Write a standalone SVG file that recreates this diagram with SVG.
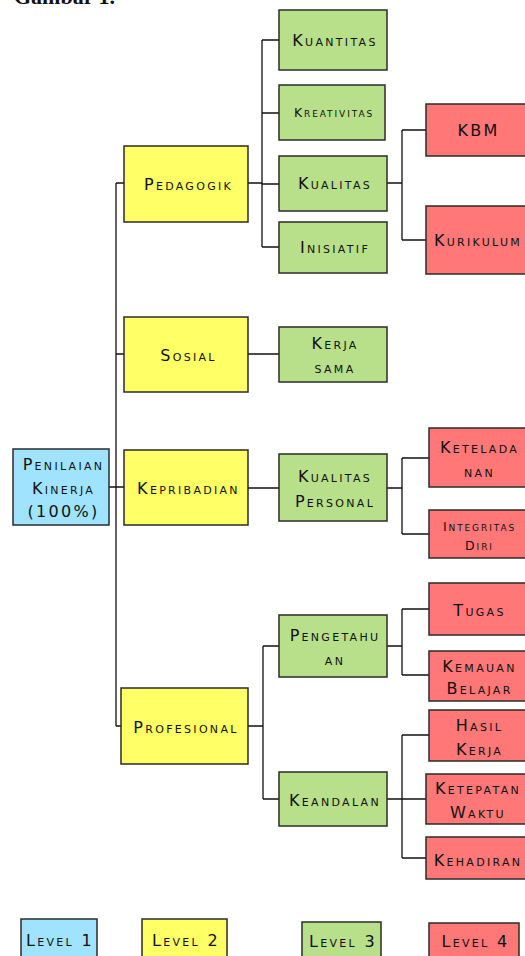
<svg xmlns="http://www.w3.org/2000/svg" width="525" height="956" viewBox="0 0 525 956">
<style>
.n rect{stroke:#2b2b2b;stroke-width:1.5}
.l1{fill:#A0E3FF}.l2{fill:#FFFF66}.l3{fill:#B8DF8A}.l4{fill:#FF7777}
text{font-family:"DejaVu Sans",Verdana,sans-serif;font-variant:small-caps;font-size:16px;letter-spacing:2.3px;text-anchor:middle;fill:#111}
text.s{font-size:12.5px;letter-spacing:1.9px}
#conn path{fill:none;stroke:#111;stroke-width:1.3}
</style>
<text x="14" y="4" style="font-family:'Liberation Serif',serif;font-weight:bold;font-size:22px;font-variant:normal;letter-spacing:0;text-anchor:start">Gambar 1.</text>
<g id="conn">
<path d="M109 487H116M116 183V726M116 183H124M116 354H124M116 487H124M116 726H121"/>
<path d="M248 183H262M262 40V247M262 40H279M262 113H279M262 184H279M262 247H279"/>
<path d="M387 183H402M402 130V240M402 130H426M402 240H426"/>
<path d="M248 354H279M248 488H279"/>
<path d="M387 488H402M402 458V534M402 458H429M402 534H429"/>
<path d="M248 726H263M263 646V799M263 646H279M263 799H279"/>
<path d="M387 646H402M402 609V675M402 609H429M402 675H429"/>
<path d="M387 799H402M402 735V858M402 735H429M402 799H426M402 858H426"/>
</g>
<g id="penilaian" class="n"><rect class="l1" x="13" y="449" width="96" height="76"/><text x="63.5" y="470">Penilaian</text><text x="63.5" y="494">Kinerja</text><text x="63.5" y="517">(100%)</text></g>
<g id="pedagogik" class="n"><rect class="l2" x="124" y="146" width="124" height="76"/><text x="188.5" y="190">Pedagogik</text></g>
<g id="sosial" class="n"><rect class="l2" x="124" y="317" width="124" height="75"/><text x="188.5" y="361">Sosial</text></g>
<g id="kepribadian" class="n"><rect class="l2" x="124" y="450" width="124" height="75"/><text x="188.5" y="494">Kepribadian</text></g>
<g id="profesional" class="n"><rect class="l2" x="121" y="688" width="127" height="76"/><text x="186" y="733">Profesional</text></g>
<g id="kuantitas" class="n"><rect class="l3" x="279" y="10" width="108" height="60"/><text x="335" y="46">Kuantitas</text></g>
<g id="kreativitas" class="n"><rect class="l3" x="279" y="85" width="106" height="55"/><text class="s" x="334" y="117">Kreativitas</text></g>
<g id="kualitas" class="n"><rect class="l3" x="279" y="156" width="108" height="55"/><text x="335" y="189">Kualitas</text></g>
<g id="inisiatif" class="n"><rect class="l3" x="279" y="222" width="108" height="51"/><text x="335" y="253">Inisiatif</text></g>
<g id="kerjasama" class="n"><rect class="l3" x="279" y="327" width="108" height="55"/><text x="335" y="349">Kerja</text><text x="335" y="373">sama</text></g>
<g id="kualitaspersonal" class="n"><rect class="l3" x="279" y="454" width="108" height="67"/><text x="335" y="482">Kualitas</text><text x="335" y="507">Personal</text></g>
<g id="pengetahuan" class="n"><rect class="l3" x="279" y="615" width="108" height="62"/><text x="335" y="641">Pengetahu</text><text x="335" y="665">an</text></g>
<g id="keandalan" class="n"><rect class="l3" x="279" y="772" width="108" height="54"/><text x="335" y="806">Keandalan</text></g>
<g id="kbm" class="n"><rect class="l4" x="426" y="104" width="102" height="52"/><text x="478.5" y="136">KBM</text></g>
<g id="kurikulum" class="n"><rect class="l4" x="426" y="206" width="102" height="68"/><text x="478" y="246">Kurikulum</text></g>
<g id="keteladanan" class="n"><rect class="l4" x="429" y="428" width="99" height="59"/><text x="479.5" y="453">Ketelada</text><text x="479.5" y="477">nan</text></g>
<g id="integritas" class="n"><rect class="l4" x="429" y="510" width="99" height="48"/><text class="s" x="479.5" y="531">Integritas</text><text class="s" x="479.5" y="550">Diri</text></g>
<g id="tugas" class="n"><rect class="l4" x="429" y="583" width="99" height="52"/><text x="479.5" y="616">Tugas</text></g>
<g id="kemauan" class="n"><rect class="l4" x="429" y="651" width="99" height="50"/><text x="479.5" y="672">Kemauan</text><text x="479.5" y="694">Belajar</text></g>
<g id="hasilkerja" class="n"><rect class="l4" x="429" y="710" width="99" height="51"/><text x="479.5" y="731">Hasil</text><text x="479.5" y="755">Kerja</text></g>
<g id="ketepatan" class="n"><rect class="l4" x="426" y="774" width="102" height="50"/><text x="478" y="794">Ketepatan</text><text x="478" y="818">Waktu</text></g>
<g id="kehadiran" class="n"><rect class="l4" x="426" y="837" width="102" height="42"/><text x="478" y="866">Kehadiran</text></g>
<g id="level1" class="n"><rect class="l1" x="21" y="919" width="76" height="45"/><text x="60" y="946">Level 1</text></g>
<g id="level2" class="n"><rect class="l2" x="142" y="919" width="85" height="45"/><text x="186" y="946">Level 2</text></g>
<g id="level3" class="n"><rect class="l3" x="302" y="922" width="79" height="42"/><text x="343" y="947">Level 3</text></g>
<g id="level4" class="n"><rect class="l4" x="429" y="923" width="90" height="41"/><text x="475.5" y="947">Level 4</text></g>
</svg>
